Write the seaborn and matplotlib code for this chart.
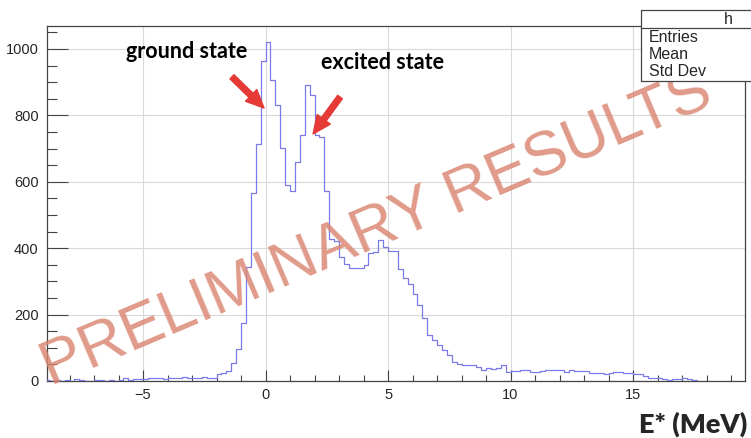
import numpy as np
import pandas as pd
import matplotlib
matplotlib.use("Agg")
import matplotlib.pyplot as plt
import seaborn as sns
from matplotlib.ticker import MultipleLocator, FixedLocator
from matplotlib.patches import Rectangle
from matplotlib.lines import Line2D

# ---------------- data ----------------
bin_start = -9.0
bin_width = 0.2
counts_low = [2, 1, 2, 1, 2, 1, 5, 2, 1, 1, 2, 3, 1, 2, 1, 2, 10, 3, 5, 5,
              7, 8, 8, 9, 7, 8, 9, 8, 11, 10, 10, 10, 11, 9, 10]
counts_peaks = [20, 24, 31, 53, 96, 176, 344, 567, 713, 965, 1020, 905, 831,
                701, 591, 571, 660, 741, 892, 860, 741, 736, 573]
counts_mid = [427, 423, 373, 352, 340, 340, 341, 348, 386, 388, 425, 405, 390,
              392, 336, 311, 293, 262, 229, 190, 140, 123, 108, 93, 78, 58, 50,
              48, 47, 49, 43, 33, 38, 37, 38, 47, 28]
counts_tail = [31, 31, 33, 33, 28, 26, 30, 32, 32, 33, 34, 28, 33, 31, 31, 30,
               25, 23, 23, 22, 25, 27, 27, 25, 25, 21, 21, 15, 10, 10, 10, 7, 3,
               7, 6, 9, 6, 2]
counts = np.array(counts_low + counts_peaks + counts_mid + counts_tail, dtype=float)
edges = [round(bin_start + bin_width * i, 6) for i in range(len(counts) + 1)]
centers = np.array(edges[:-1]) + bin_width / 2
df = pd.DataFrame({"E": centers, "n": counts})

x_ticks = [-5, 0, 5, 10, 15]
y_ticks = [0, 200, 400, 600, 800, 1000]
stat_labels = ["Entries", "Mean", "Std Dev"]
hist_name = "h"
x_label = "E* (MeV)"
watermark = "PRELIMINARY RESULTS"
label_ground = "ground state"
label_excited = "excited state"

# ---------------- figure ----------------
sns.set_theme(style="white")
plt.rcParams['font.family'] = ['Liberation Sans', 'DejaVu Sans']

W, H = 751, 438
fig = plt.figure(figsize=(W / 100, H / 100), dpi=100)
L, R, T, B = 47, 745, 26, 381
ax = fig.add_axes([L / W, 1 - B / H, (R - L) / W, (B - T) / H])

sns.histplot(data=df, x="E", weights="n", bins=edges, element="step", fill=False,
             color="#7b7be8", linewidth=0.9, ax=ax, zorder=3)

ax.set_xlim(-8.92, 19.57)
ax.set_ylim(0, 1069)
ax.set_xlabel("")
ax.set_ylabel("")

ax.xaxis.set_major_locator(FixedLocator(x_ticks))
ax.xaxis.set_minor_locator(MultipleLocator(1))
ax.yaxis.set_major_locator(FixedLocator(y_ticks))
ax.yaxis.set_minor_locator(MultipleLocator(50))
ax.tick_params(axis="x", which="major", direction="in", length=8, width=0.8,
               color="#444444", labelsize=10.5, pad=5, bottom=True)
ax.tick_params(axis="x", which="minor", direction="in", length=4, width=0.8,
               color="#444444", bottom=True)
ax.tick_params(axis="y", which="major", direction="in", length=15, width=0.8,
               color="#444444", labelsize=10.5, pad=6, left=True)
ax.tick_params(axis="y", which="minor", direction="in", length=7.5, width=0.8,
               color="#444444", left=True)
ax.grid(True, which="major", color="#d9d9d9", linewidth=0.8)
ax.set_axisbelow(True)
for s in ax.spines.values():
    s.set_visible(True)
    s.set_color("#444444")
    s.set_linewidth(0.9)

# watermark
ax.text(0.472, 0.425, watermark, transform=ax.transAxes, rotation=23,
        rotation_mode="anchor", ha="center", va="center", fontsize=45,
        color="#da8470", alpha=0.82, family="Liberation Sans", zorder=5)

# annotations
ann_font = dict(family=["Lato", "DejaVu Sans"], fontsize=15.5, color="black",
                fontweight="bold")
ax.text(-3.24, 991, label_ground, ha="center", va="center", zorder=6, **ann_font)
ax.text(4.76, 958, label_excited, ha="center", va="center", zorder=6, **ann_font)
arrow_style = dict(arrowstyle="simple,head_length=1.0,head_width=0.9,tail_width=0.32",
                   color="#e53a35", mutation_scale=13, shrinkA=0, shrinkB=0)
ax.annotate("", xy=(-0.06, 822), xytext=(-1.37, 916), arrowprops=arrow_style, zorder=6)
ax.annotate("", xy=(1.94, 744), xytext=(3.04, 855), arrowprops=arrow_style, zorder=6)

# x label
fig.text(747 / W, 1 - 424 / H, x_label, ha="right", va="center", fontsize=19.5,
         fontweight="heavy", family=["Lato", "DejaVu Sans"])

# stats box (ROOT style, cut at the right edge)
bx0, by_top, by_bot, by_hdr = 641, 10, 81, 28
fig.add_artist(Rectangle((bx0 / W, 1 - by_bot / H), (W - bx0) / W,
                         (by_bot - by_top) / H, transform=fig.transFigure,
                         facecolor="white", edgecolor="none", zorder=10))
box_kw = dict(transform=fig.transFigure, color="#444444", lw=0.9, zorder=11)
fig.add_artist(Line2D([bx0 / W, 1.0], [1 - by_top / H] * 2, **box_kw))
fig.add_artist(Line2D([bx0 / W, 1.0], [1 - by_hdr / H] * 2, **box_kw))
fig.add_artist(Line2D([bx0 / W, 1.0], [1 - by_bot / H] * 2, **box_kw))
fig.add_artist(Line2D([bx0 / W] * 2, [1 - by_top / H, 1 - by_bot / H], **box_kw))
fig.text(728 / W, 1 - 19 / H, hist_name, ha="center", va="center", fontsize=11.5, zorder=12)
for i, lab in enumerate(stat_labels):
    fig.text(649 / W, 1 - (37 + 17.5 * i) / H, lab, ha="left", va="center",
             fontsize=11.5, zorder=12)

fig.savefig("out.png", dpi=100)
